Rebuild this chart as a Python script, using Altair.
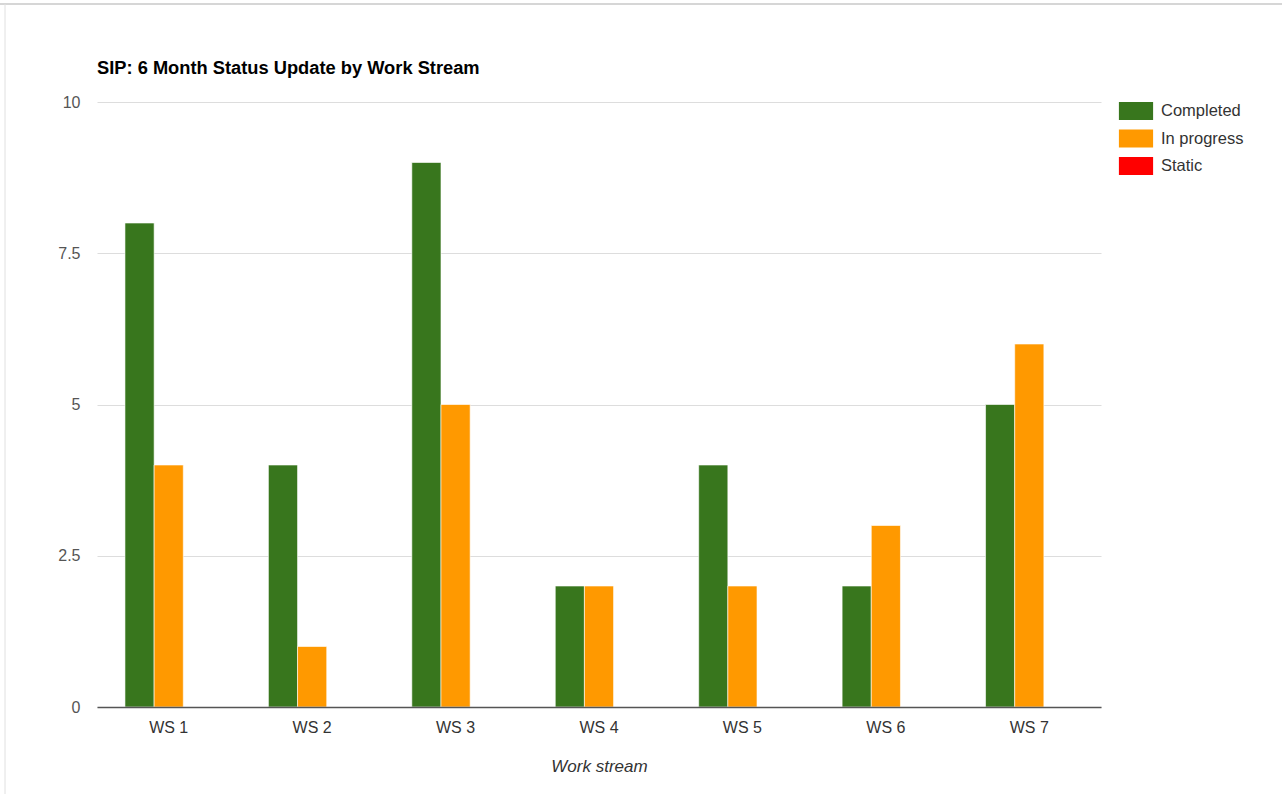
import altair as alt
import pandas as pd

# Work stream status counts
streams = ["WS 1", "WS 2", "WS 3", "WS 4", "WS 5", "WS 6", "WS 7"]
completed = [8, 4, 9, 2, 4, 2, 5]
in_progress = [4, 1, 5, 2, 2, 3, 6]
static = [0, 0, 0, 0, 0, 0, 0]

statuses = ["Completed", "In progress", "Static"]
colors = ["#38761d", "#ff9900", "#ff0000"]

rows = []
for i, ws in enumerate(streams):
    for status, vals in zip(statuses, [completed, in_progress, static]):
        rows.append({"stream": ws, "status": status, "count": vals[i]})
df = pd.DataFrame(rows)

FONT = "Liberation Sans"
W, H = 1004, 605

bars = alt.Chart(df).mark_bar(stroke="white", strokeWidth=1, strokeOpacity=0.6).encode(
    x=alt.X(
        "stream:N",
        sort=streams,
        scale=alt.Scale(paddingInner=0.39, paddingOuter=0.195),
        axis=alt.Axis(
            title="Work stream",
            titleFont=FONT,
            titleFontSize=17,
            titleFontStyle="italic",
            titleFontWeight="normal",
            titleColor="#333",
            titlePadding=23,
            labelFont=FONT,
            labelFontSize=16,
            labelColor="#333",
            labelAngle=0,
            labelPadding=12,
            ticks=False,
            domainColor="#555",
            domainWidth=1.5,
            zindex=1,
        ),
    ),
    xOffset=alt.XOffset("status:N", sort=statuses, scale=alt.Scale(paddingInner=0, paddingOuter=0)),
    y=alt.Y(
        "count:Q",
        scale=alt.Scale(domain=[0, 10], nice=False),
        axis=alt.Axis(
            title=None,
            values=[0, 2.5, 5, 7.5, 10],
            format=".1~f",
            labelFont=FONT,
            labelFontSize=16,
            labelColor="#555",
            labelPadding=17,
            ticks=False,
            domain=False,
            gridColor="#dddddd",
            gridWidth=1,
        ),
    ),
    color=alt.Color(
        "status:N",
        sort=statuses,
        scale=alt.Scale(domain=statuses, range=colors),
        legend=alt.Legend(
            title=None,
            orient="none",
            legendX=1030,
            legendY=0,
            symbolType="M-1.9,-1H1.9V1H-1.9Z",
            symbolSize=324,
            symbolStrokeWidth=0,
            symbolOpacity=1,
            labelFont=FONT,
            labelFontSize=16.5,
            labelColor="#333",
            labelOffset=16,
            rowPadding=9.5,
        ),
    ),
)

# Light frame along the top and left edges of the page
frame_top = alt.Chart(pd.DataFrame({"k": [0]})).mark_rule(color="#c8c8c8", strokeWidth=1.5).encode(
    x=alt.value(-97), x2=alt.value(1185), y=alt.value(-98)
)
frame_left = alt.Chart(pd.DataFrame({"k": [0]})).mark_rule(color="#e0e0e0", strokeWidth=1).encode(
    x=alt.value(-92), y=alt.value(-98), y2=alt.value(692)
)

chart = alt.layer(bars, frame_top, frame_left).properties(
    width=W,
    height=H,
    padding={"left": 97, "top": 102, "right": 181, "bottom": 87},
    autosize=alt.AutoSizeParams(type="none"),
    background="white",
    title=alt.TitleParams(
        "SIP: 6 Month Status Update by Work Stream",
        anchor="start",
        frame="group",
        font=FONT,
        fontSize=18.3,
        fontWeight="bold",
        color="#000",
        baseline="alphabetic",
        offset=0,
        dy=89,
    ),
).configure_view(stroke=None)

chart.save("out.html", embed_options={"renderer": "svg", "actions": False})
